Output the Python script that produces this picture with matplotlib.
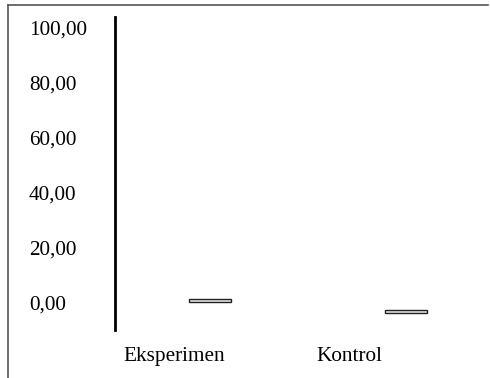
import matplotlib
matplotlib.use("Agg")
import matplotlib.pyplot as plt
from matplotlib.lines import Line2D

# data
groups = ['Eksperimen', 'Kontrol']
box_low = [0.2, -3.9]
box_high = [1.3, -2.6]
yticks = [0, 20, 40, 60, 80, 100]
ytick_labels = ['0,00', '20,00', '40,00', '60,00', '80,00', '100,00']

plt.rcParams['font.family'] = ['Liberation Serif', 'DejaVu Serif']

W, H = 490, 378
fig = plt.figure(figsize=(W / 100, H / 100), dpi=100)
ax = fig.add_axes([114.5 / W, 1 - 330 / H, (480 - 114.5) / W, (330 - 17) / H])

# boxes sit at px 210 and 406, labels at px 174 and 349 (axis 114.5..480)
def fx(px):
    return (px - 114.5) / (480 - 114.5)

box_x = [fx(210), fx(406)]
label_x = [fx(174.5), fx(349)]

heights = [h - l for l, h in zip(box_low, box_high)]
ax.bar(box_x, heights, bottom=box_low, width=42 / (480 - 114.5),
       color='#e6e6e6', edgecolor='#222222', linewidth=1.0)

ax.set_xlim(0, 1)
ax.set_ylim(-10, 103.8)
ax.set_yticks(yticks)
ax.set_yticklabels(ytick_labels, fontsize=15.3)
for lab in ax.get_yticklabels():
    lab.set_horizontalalignment('left')
ax.tick_params(axis='y', length=0, pad=(114.5 - 29) * 0.72)

ax.set_xticks(label_x)
ax.set_xticklabels(groups, fontsize=15.3)
ax.tick_params(axis='x', length=0, pad=(357 - 330) * 0.72 - 7.5)

for s in ['top', 'right', 'bottom']:
    ax.spines[s].set_visible(False)
ax.spines['left'].set_linewidth(2)
ax.spines['left'].set_color('black')

# outer frame (left and top edges)
fig.add_artist(Line2D([8 / W, 8 / W], [0, 1 - 5 / H], color='#555555', lw=1.2,
                      transform=fig.transFigure))
fig.add_artist(Line2D([8 / W, 488 / W], [1 - 5 / H, 1 - 5 / H], color='#555555',
                      lw=1.2, transform=fig.transFigure))

fig.savefig('out.png', dpi=100)
